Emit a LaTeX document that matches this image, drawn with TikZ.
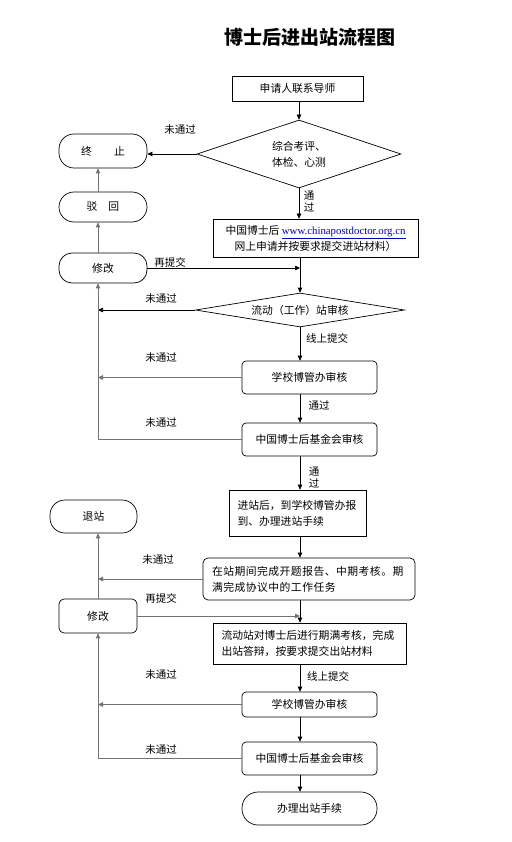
\documentclass[tikz,border=0pt]{standalone}
\usepackage{fontspec}
\setmainfont{Noto Sans CJK SC}
\newfontfamily\urlfont{Liberation Serif}
\usetikzlibrary{shapes.geometric,arrows.meta}
\begin{document}
\begin{tikzpicture}[x=1pt,y=-1pt,
  every node/.style={font=\fontsize{10.8}{16}\selectfont, inner sep=0pt},
  box/.style={draw, line width=0.7pt, align=center},
  rbox/.style={box, rounded corners=4pt},
  term/.style={box, rounded corners=15pt},
  dia/.style={draw, diamond, line width=0.7pt, align=center, inner sep=0pt},
  arr/.style={line width=0.7pt, -{Triangle[length=5pt,width=4.5pt]}},
  garr/.style={arr, draw=black!55, line width=0.9pt},
  lab/.style={font=\fontsize{10.5}{12}\selectfont, align=center}
]
\useasboundingbox (0,0) rectangle (511,842);
\coordinate (ax) at (300,0);
\coordinate (lx) at (98,0);

\node (title) at (310,37) {\fontsize{19}{22}\selectfont\bfseries 博士后进出站流程图};

\node[box, minimum width=131, minimum height=25] (n1) at (297.5,88.5) {申请人联系导师};
\node[dia, minimum width=204, minimum height=68, aspect=3] (d1) at (299,154) {综合考评、\\体检、心测};
\node[term, minimum width=88, minimum height=34] (t1) at (103,151) {终\hspace{22pt}止};
\node[term, minimum width=88, minimum height=30] (b1) at (103,207) {驳\hspace{11pt}回};
\node[term, rounded corners=13pt, minimum width=88, minimum height=30] (m1) at (103,268) {修改};
\node[box, minimum width=205, minimum height=38] (box2) at (315.5,238)
  {中国博士后 {\urlfont\color{blue!75!black}\underline{www.chinapostdoctor.org.cn}}\\网上申请并按要求提交进站材料）};
\node[dia, minimum width=209, minimum height=34, aspect=6] (d2) at (300,310) {流动（工作）站审核};
\node[rbox, minimum width=135, minimum height=33] (s1) at (309.5,377.5) {学校博管办审核};
\node[rbox, minimum width=135, minimum height=33] (f1) at (309.5,439.5) {中国博士后基金会审核};
\node[box, minimum width=137, minimum height=46, text width=120, align=left] (e1) at (297.5,513)
  {进站后，到学校博管办报\\到、办理进站手续};
\node[term, minimum width=87, minimum height=33] (q1) at (93.5,516.5) {退站};
\node[rbox, rounded corners=5pt, minimum width=212, minimum height=42, text width=194, align=left] (z1) at (309,579)
  {\addfontfeature{LetterSpace=4.5}在站期间完成开题报告、中期考核。期\\满完成协议中的工作任务};
\node[rbox, rounded corners=5pt, minimum width=78, minimum height=34] (m2) at (98,616) {修改};
\node[box, minimum width=193, minimum height=41, text width=176, align=left] (l1) at (309.5,643.5)
  {流动站对博士后进行期满考核，完成\\出站答辩，按要求提交出站材料};
\node[rbox, minimum width=135, minimum height=25] (s2) at (309.5,704.5) {学校博管办审核};
\node[rbox, minimum width=135, minimum height=33] (f2) at (309.5,758.5) {中国博士后基金会审核};
\node[term, rounded corners=16pt, minimum width=135, minimum height=33] (en) at (309.5,808.5) {办理出站手续};

% labels
\node[lab] (la1) at (180,130) {未通过};
\node[lab, font=\fontsize{10.5}{11.5}\selectfont] (la2) at (309,201.5) {通\\过};
\node[lab] (la3) at (170,262) {再提交};
\node[lab] (la4) at (161,299) {未通过};
\node[lab] (la5) at (327,338) {线上提交};
\node[lab] (la6) at (161,358) {未通过};
\node[lab] (la7) at (319,405) {通过};
\node[lab] (la8) at (161,423) {未通过};
\node[lab, font=\fontsize{10.5}{11.5}\selectfont] (la9) at (314,477.5) {通\\过};
\node[lab] (la10) at (158,560) {未通过};
\node[lab] (la11) at (161,598) {再提交};
\node[lab] (la12) at (328,676) {线上提交};
\node[lab] (la13) at (161,675) {未通过};
\node[lab] (la14) at (161,750) {未通过};

% connectors
\draw[arr] (n1.south -| d1.north) -- (d1.north);
\draw[arr] (d1.west) -- (d1.west -| t1.east);
\draw[garr] (b1.north -| lx) -- (t1.south -| lx);
\draw[garr] (m1.north -| lx) -- (b1.south -| lx);
\draw[arr] (d1.south) -- (d1.south |- box2.north);
\draw[arr] (m1.east) -- (m1.east -| ax);
\draw[arr] (box2.south -| ax) -- (d2.north);
\draw[arr] (d2.west) -- (d2.west -| lx);
\draw[arr] (d2.south) -- (d2.south |- s1.north);
\draw[garr] (s1.west) -- (s1.west -| lx);
\draw[arr] (s1.south -| ax) -- (f1.north -| ax);
\draw[garr] (f1.west) -- (f1.west -| lx) -- (m1.south -| lx);
\draw[arr] (f1.south -| ax) -- (e1.north -| ax);
\draw[arr] (e1.south -| ax) -- (z1.north -| ax);
\draw[garr] (z1.west) -- (z1.west -| lx);
\draw[garr] (m2.north -| lx) -- (q1.south -| lx);
\draw[garr] (m2.east) -- (m2.east -| ax);
\draw[arr] (z1.south -| ax) -- (l1.north -| ax);
\draw[arr] (l1.south -| ax) -- (s2.north -| ax);
\draw[garr] (s2.west) -- (s2.west -| lx);
\draw[arr] (s2.south -| ax) -- (f2.north -| ax);
\draw[garr] (f2.west) -- (f2.west -| lx) -- (m2.south -| lx);
\draw[arr] (f2.south -| ax) -- (en.north -| ax);
\end{tikzpicture}
\end{document}
